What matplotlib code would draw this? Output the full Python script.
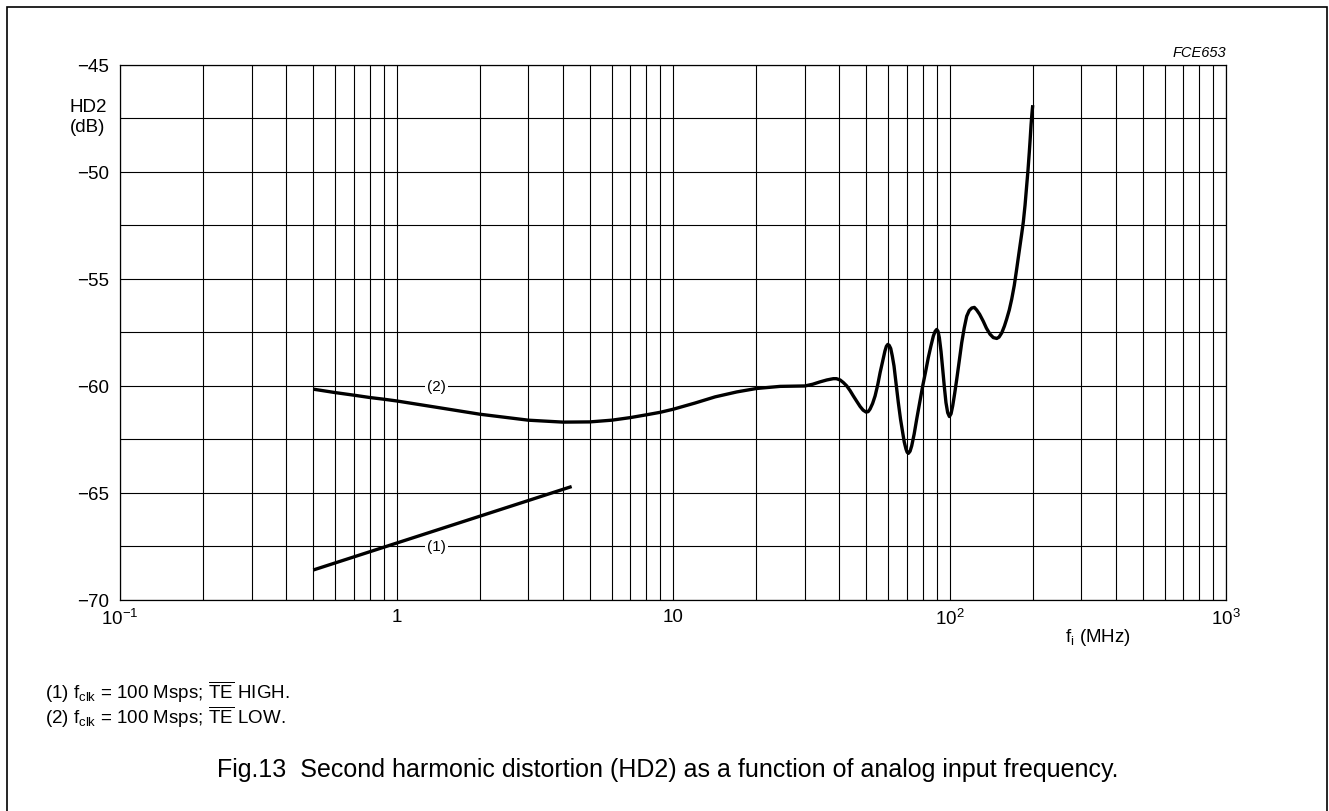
import matplotlib.pyplot as plt
from matplotlib.ticker import LogLocator, MultipleLocator, NullFormatter, FixedLocator
from matplotlib.patches import Rectangle

plt.rcParams['font.family'] = ['Liberation Sans', 'DejaVu Sans']
plt.rcParams['mathtext.fontset'] = 'custom'
plt.rcParams['mathtext.rm'] = 'Liberation Sans'
plt.rcParams['mathtext.it'] = 'Liberation Sans:italic'

# curve (2): TE LOW
freq2 = [0.5, 0.6, 0.7, 0.8, 0.9, 1.0, 1.4, 2.0, 3.0, 4.0, 5.0, 6.0, 7.0, 8.0,
         9.0, 10.0, 12.0, 14.2, 17.0, 20.0, 24.4, 30.0, 32.0, 34.0, 36.0, 38.0,
         39.0, 40.2, 41.3, 42.5, 43.7, 44.9, 46.2, 47.5, 48.7, 49.9, 50.8, 51.6,
         52.7, 53.8, 55.0, 56.1, 57.3, 58.4, 59.1, 59.8, 60.5, 61.3, 62.1, 63.0,
         64.1, 65.3, 66.5, 67.7, 68.6, 69.6, 70.3, 71.0, 72.0, 73.0, 74.5, 76.1,
         78.0, 80.0, 81.9, 83.8, 85.6, 87.4, 88.7, 89.9, 90.9, 91.9, 93.2, 94.5,
         95.8, 97.1, 98.5, 99.9, 101.3, 102.7, 104.4, 106.2, 108.4, 110.7, 113.0,
         115.4, 117.8, 120.3, 123.0, 125.4, 128.5, 132.5, 136.0, 140.1, 144.0,
         148.2, 151.0, 154.5, 158.0, 161.0, 164.5, 167.9, 171.5, 175.0, 179.9,
         182.4, 184.9, 187.6, 190.2, 192.3, 194.4, 195.8, 197.2, 198.6, 200.0]
hd2_2 = [-60.15, -60.31, -60.43, -60.54, -60.62, -60.70, -61.00, -61.32, -61.60,
         -61.69, -61.68, -61.60, -61.48, -61.35, -61.23, -61.09, -60.80, -60.51,
         -60.28, -60.12, -60.02, -60.00, -59.92, -59.81, -59.72, -59.66, -59.66,
         -59.72, -59.84, -60.00, -60.22, -60.47, -60.72, -60.96, -61.13, -61.22,
         -61.20, -61.08, -60.82, -60.47, -59.95, -59.38, -58.85, -58.37, -58.15,
         -58.06, -58.10, -58.25, -58.60, -59.07, -59.90, -60.78, -61.55, -62.17,
         -62.62, -62.95, -63.10, -63.15, -63.05, -62.80, -62.25, -61.55, -60.78,
         -60.00, -59.35, -58.68, -58.15, -57.67, -57.45, -57.36, -57.45, -57.75,
         -58.40, -59.22, -60.05, -60.78, -61.25, -61.43, -61.30, -60.93, -60.35,
         -59.69, -58.85, -57.98, -57.30, -56.74, -56.48, -56.36, -56.33, -56.45,
         -56.65, -56.98, -57.30, -57.58, -57.74, -57.78, -57.72, -57.52, -57.20,
         -56.87, -56.45, -55.94, -55.30, -54.53, -53.44, -52.90, -52.34, -51.55,
         -50.63, -49.90, -49.06, -48.45, -47.81, -47.30, -46.88]

# curve (1): TE HIGH
freq1 = [0.5, 4.3]
hd2_1 = [-68.6, -64.7]

x_ticks = [0.1, 1, 10, 100, 1000]
x_labels = ['$10^{-1}$', '1', '10', '$10^{2}$', '$10^{3}$']
y_ticks = [-45, -50, -55, -60, -65, -70]
y_labels = ['\u221245', '\u221250', '\u221255', '\u221260', '\u221265', '\u221270']

fig = plt.figure(figsize=(13.29, 8.12), dpi=100)
ax = fig.add_axes([0.0903, 0.2599, 0.8322, 0.6589])

ax.set_xscale('log')
ax.set_xlim(0.1, 1000)
ax.set_ylim(-70, -45)

ax.xaxis.set_major_locator(FixedLocator(x_ticks))
ax.set_xticklabels(x_labels)
ax.xaxis.set_minor_locator(LogLocator(base=10, subs=range(2, 10), numticks=20))
ax.xaxis.set_minor_formatter(NullFormatter())
ax.set_yticks(y_ticks)
ax.set_yticklabels(y_labels)
ax.yaxis.set_minor_locator(MultipleLocator(2.5))

ax.grid(True, which='both', color='black', linewidth=0.8)
ax.tick_params(which='both', length=0, labelsize=13.5, colors='black')
ax.tick_params(axis='x', pad=6)
ax.tick_params(axis='y', pad=8)
for sp in ax.spines.values():
    sp.set_linewidth(0.9)

ax.plot(freq2, hd2_2, color='black', linewidth=2.4, solid_capstyle='butt',
        solid_joinstyle='round')
ax.plot(freq1, hd2_1, color='black', linewidth=2.4, solid_capstyle='butt')

box = dict(facecolor='white', edgecolor='none', pad=1.5)
ax.text(1.4, -60, '(2)', ha='center', va='center', fontsize=11, bbox=box)
ax.text(1.4, -67.5, '(1)', ha='center', va='center', fontsize=11, bbox=box)

W, H = 1329, 812
fig.text(88 / W, 1 - 107 / H, 'HD2', ha='center', va='center', fontsize=13.5)
fig.text(88 / W, 1 - 128 / H, '(dB)', ha='center', va='center', fontsize=13.5)
fig.text(1098 / W, 1 - 638 / H, r'f$_{\mathrm{i}}$ (MHz)', ha='center', va='center', fontsize=13.5)
fig.text(1226 / W, 1 - 53 / H, 'FCE653', ha='right', va='center', fontsize=10.5, style='italic')

fig.text(45 / W, 1 - 692 / H, r'(1) f$_{\mathrm{clk}}$ = 100 Msps; $\overline{\mathrm{TE}}$ HIGH.',
         ha='left', va='center', fontsize=13.5)
fig.text(45 / W, 1 - 717 / H, r'(2) f$_{\mathrm{clk}}$ = 100 Msps; $\overline{\mathrm{TE}}$ LOW.',
         ha='left', va='center', fontsize=13.5)
fig.text(668 / W, 1 - 770 / H,
         'Fig.13  Second harmonic distortion (HD2) as a function of analog input frequency.',
         ha='center', va='center', fontsize=18)

fig.patches.append(Rectangle((7 / W, -0.05), (1327 - 7) / W, 1.05 - 8 / H,
                             transform=fig.transFigure, fill=False,
                             edgecolor='black', linewidth=1.2))

fig.savefig('out.png', dpi=100)
